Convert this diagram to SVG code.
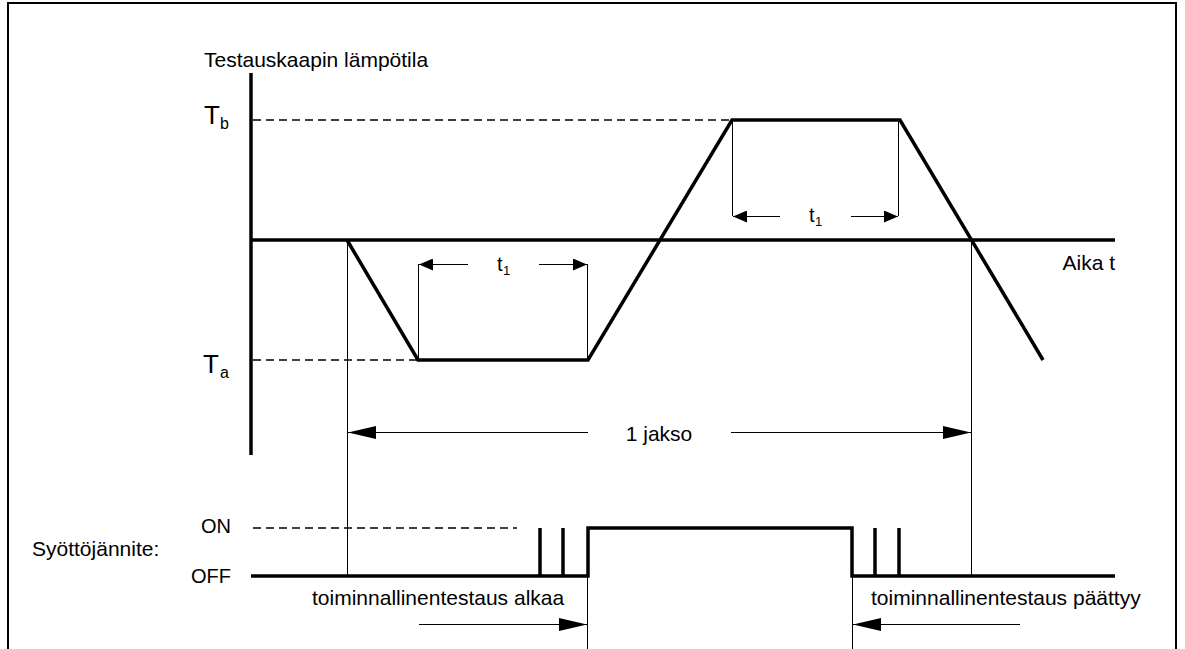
<svg xmlns="http://www.w3.org/2000/svg" width="1185" height="649" viewBox="0 0 1185 649">
  <style>
    text { font-family: "Liberation Sans", Arial, sans-serif; fill: #000; }
    .lbl { font-size: 21px; }
    .lvl { font-size: 20px; }
    .big { font-size: 26px; }
    .sub { font-size: 16px; }
    .tt { font-size: 20px; }
    .ts { font-size: 13px; }
    .thick { stroke: #000; stroke-width: 3.5; fill: none; stroke-linejoin: miter; }
    .thin { stroke: #000; stroke-width: 1; fill: none; }
    .dash { stroke: #000; stroke-width: 1.5; stroke-dasharray: 8 5; fill: none; }
    .dimL { stroke: #000; stroke-width: 1; fill: none; marker-end: url(#headL); }
    .dimS { stroke: #000; stroke-width: 1; fill: none; marker-end: url(#headS); }
  </style>
  <defs>
    <marker id="headL" viewBox="0 0 28 13" refX="28" refY="6.5" markerWidth="28" markerHeight="13" markerUnits="userSpaceOnUse" orient="auto">
      <path d="M0,0 L28,6.5 L0,13 z" fill="#000"/>
    </marker>
    <marker id="headS" viewBox="0 0 14 12" refX="14" refY="6" markerWidth="14" markerHeight="12" markerUnits="userSpaceOnUse" orient="auto">
      <path d="M0,0 L14,6 L0,12 z" fill="#000"/>
    </marker>
  </defs>

  <rect x="0" y="0" width="1185" height="649" fill="#fff"/>

  <!-- frame -->
  <g id="frame">
    <path d="M8,649 V3 H1176 V649" stroke="#000" stroke-width="2" fill="none"/>
  </g>

  <!-- temperature axes -->
  <g id="axes">
    <line class="thick" x1="251" y1="73" x2="251" y2="455"/>
    <line class="thick" x1="251" y1="240" x2="1115" y2="240"/>
    <text class="lbl" x="204" y="67">Testauskaapin lämpötila</text>
    <text class="lbl" x="1115" y="270" text-anchor="end">Aika t</text>
  </g>

  <!-- temperature levels -->
  <g id="level-Tb">
    <line class="dash" x1="253" y1="120" x2="732" y2="120"/>
    <text class="big" x="204" y="124">T</text>
    <text class="sub" x="220" y="129">b</text>
  </g>
  <g id="level-Ta">
    <line class="dash" x1="253" y1="360" x2="418" y2="360"/>
    <text class="big" x="203" y="373">T</text>
    <text class="sub" x="220" y="378">a</text>
  </g>

  <!-- temperature profile -->
  <g id="profile">
    <path class="thick" d="M347,240 L418,360 L588,360 L732,120 L900,120 L1043,360"/>
  </g>

  <!-- supply voltage signal -->
  <g id="supply">
    <text class="lbl" x="32" y="556">Syöttöjännite:</text>
    <text class="lvl" x="231" y="533" text-anchor="end">ON</text>
    <text class="lvl" x="231" y="583" text-anchor="end">OFF</text>
    <line class="dash" x1="253" y1="528" x2="517" y2="528"/>
    <path class="thick" d="M251,576 H588 V528 H852 V576 H1115"/>
    <line class="thick" x1="540" y1="528" x2="540" y2="576"/>
    <line class="thick" x1="563" y1="528" x2="563" y2="576"/>
    <line class="thick" x1="875" y1="528" x2="875" y2="576"/>
    <line class="thick" x1="899" y1="528" x2="899" y2="576"/>
  </g>

  <!-- dimension and marker lines -->
  <g id="connectors">
    <!-- extension lines -->
    <line class="thin" x1="347.5" y1="240" x2="347.5" y2="576"/>
    <line class="thin" x1="971.5" y1="240" x2="971.5" y2="576"/>
    <line class="thin" x1="418.5" y1="264" x2="418.5" y2="360"/>
    <line class="thin" x1="587.5" y1="264" x2="587.5" y2="360"/>
    <line class="thin" x1="732.5" y1="120" x2="732.5" y2="216"/>
    <line class="thin" x1="898.5" y1="120" x2="898.5" y2="216"/>
    <line class="thin" x1="587.5" y1="576" x2="587.5" y2="649"/>
    <line class="thin" x1="852.5" y1="576" x2="852.5" y2="649"/>

    <!-- t1 at Ta -->
    <line class="dimS" x1="468" y1="264.5" x2="419" y2="264.5"/>
    <line class="dimS" x1="539" y1="264.5" x2="587" y2="264.5"/>
    <!-- t1 at Tb -->
    <line class="dimS" x1="780" y1="216.5" x2="733" y2="216.5"/>
    <line class="dimS" x1="851" y1="216.5" x2="898" y2="216.5"/>
    <!-- one cycle -->
    <line class="dimL" x1="588" y1="432.5" x2="348" y2="432.5"/>
    <line class="dimL" x1="731" y1="432.5" x2="971" y2="432.5"/>
    <!-- functional test start / end -->
    <line class="dimL" x1="419" y1="624.5" x2="587" y2="624.5"/>
    <line class="dimL" x1="1020" y1="624.5" x2="853" y2="624.5"/>
  </g>

  <!-- dimension labels -->
  <g id="labels">
    <text class="tt" x="497" y="271">t</text>
    <text class="ts" x="503" y="275">1</text>
    <text class="tt" x="809" y="222">t</text>
    <text class="ts" x="815" y="226">1</text>
    <text class="lbl" x="659" y="441" text-anchor="middle">1 jakso</text>
    <text class="lbl" x="312" y="605">toiminnallinentestaus alkaa</text>
    <text class="lbl" x="871" y="605">toiminnallinentestaus päättyy</text>
  </g>
</svg>
